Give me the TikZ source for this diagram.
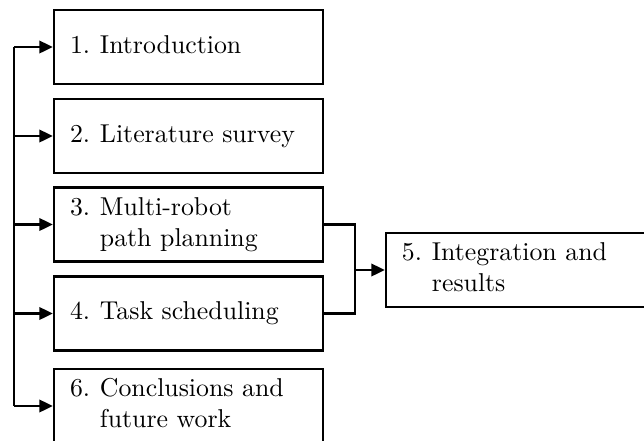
\documentclass[tikz,border=0pt]{standalone}
\usetikzlibrary{arrows.meta}
\def\upx{0.3875pt}
\newcommand{\entrytext}[2]{\begin{tabular}{@{}p{11.6pt}@{}l@{}}#1 & #2\end{tabular}}
\tikzset{
  secbox/.style={draw, line width=0.95pt, rectangle, minimum height=74*\upx,
    text width=237*\upx, inner xsep=16*\upx, inner ysep=0pt, align=left},
  conn/.style={line width=0.95pt},
  arr/.style={conn, -{Triangle[length=5.2pt,width=4.8pt]}}
}
\begin{document}
\begin{tikzpicture}[x=\upx, y=-\upx]
\useasboundingbox (0,0) rectangle (644,441);
\clip (0,0) rectangle (644,441);
\node[secbox] (b1) at (188.5,47) {\entrytext{1.}{Introduction}};
\node[secbox] (b2) at (188.5,136) {\entrytext{2.}{Literature survey}};
\node[secbox] (b3) at (188.5,224.5) {\entrytext{3.}{Multi-robot\\ & path planning}};
\node[secbox] (b4) at (188.5,313.5) {\entrytext{4.}{Task scheduling}};
\node[secbox] (b6) at (188.5,406) {\entrytext{6.}{Conclusions and\\ & future work}};
\node[secbox] (b5) at (520.5,270) {\entrytext{5.}{Integration and\\ & results}};
\coordinate (trunk) at (14,0);
\coordinate (j) at (355,270);
\draw[conn] (trunk |- b1.west) -- (trunk |- b6.west);
\foreach \b in {b1,b2,b3,b4,b6} {\draw[arr] (trunk |- \b.west) -- (\b.west);}
\draw[conn] (b3.east) -| (j);
\draw[conn] (b4.east) -| (j);
\draw[arr] (j) -- (b5.west);
\end{tikzpicture}
\end{document}
